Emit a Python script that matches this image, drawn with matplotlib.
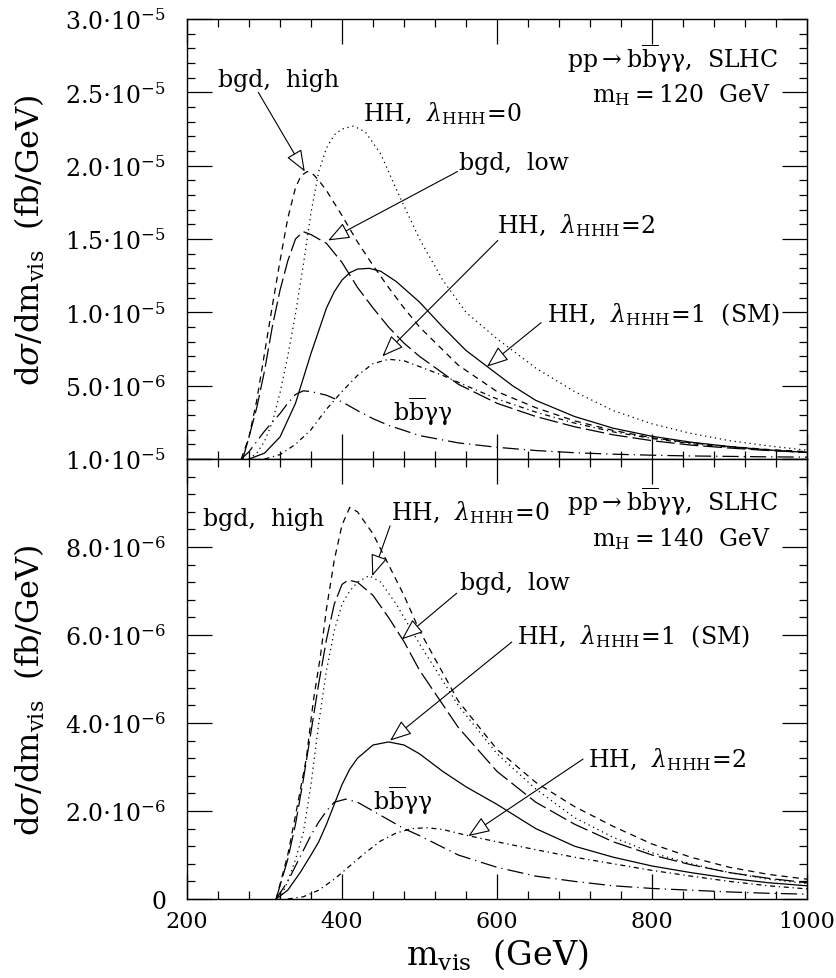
import numpy as np
import matplotlib
matplotlib.use('Agg')
import matplotlib.pyplot as plt
from matplotlib.ticker import MultipleLocator, FixedLocator, FixedFormatter

plt.rcParams['font.family'] = 'DejaVu Serif'
plt.rcParams['mathtext.fontset'] = 'dejavuserif'

# ---- data, dsigma/dm_vis in units of 1e-6 fb/GeV ----
# top panel, m_H = 120 GeV
t_high_x = [270, 280, 290, 300, 310, 320, 330, 340, 347, 355, 363, 370, 380, 400, 420, 440, 460, 480, 500,
            550, 600, 650, 700, 750, 800, 850, 900, 950, 1000]
t_high_y = [0, 1.5, 4.0, 7.2, 10.4, 13.5, 16.4, 18.5, 19.3, 19.6, 19.4, 19.0, 18.3, 16.6, 14.8, 13.2, 11.7,
            10.3, 9.0, 6.4, 4.6, 3.5, 2.6, 1.95, 1.45, 1.1, 0.85, 0.65, 0.5]
t_low_x = [272, 280, 290, 300, 310, 320, 330, 340, 350, 360, 380, 400, 420, 440, 460, 480, 500, 550, 600,
           650, 700, 750, 800, 850, 900, 950, 1000]
t_low_y = [0, 1.5, 3.5, 6.0, 9.0, 11.5, 13.5, 15.0, 15.5, 15.3, 14.7, 13.4, 11.7, 10.3, 9.0, 7.9, 7.0, 5.1,
           3.8, 2.9, 2.2, 1.65, 1.25, 0.95, 0.75, 0.58, 0.45]
t_l0_x = [280, 290, 300, 310, 320, 330, 340, 350, 360, 370, 380, 390, 400, 415, 430, 450, 470, 500, 530,
          560, 600, 650, 700, 750, 800, 850, 900, 950, 1000]
t_l0_y = [0, 0.4, 1.2, 2.5, 4.5, 7.0, 9.9, 13.2, 16.8, 19.6, 21.2, 22.1, 22.5, 22.7, 22.3, 20.8, 18.4, 15.0,
          12.2, 10.0, 8.2, 6.2, 4.6, 3.3, 2.4, 1.75, 1.25, 0.9, 0.6]
t_sm_x = [280, 300, 320, 340, 360, 380, 390, 400, 410, 420, 435, 450, 470, 500, 530, 560, 590, 620, 650,
          700, 750, 800, 850, 900, 950, 1000]
t_sm_y = [0, 0.4, 1.5, 3.8, 7.2, 10.3, 11.4, 12.2, 12.7, 12.95, 13.0, 12.8, 12.1, 10.7, 9.0, 7.4, 6.2, 5.0,
          4.0, 2.9, 2.1, 1.55, 1.15, 0.85, 0.62, 0.45]
t_l2_x = [300, 320, 340, 360, 380, 400, 420, 440, 460, 480, 500, 530, 560, 600, 650, 700, 750, 800, 850,
          900, 950, 1000]
t_l2_y = [0, 0.3, 1.0, 2.0, 3.4, 4.6, 5.7, 6.5, 6.8, 6.7, 6.3, 5.7, 5.0, 4.1, 3.2, 2.45, 1.85, 1.4, 1.05,
          0.8, 0.6, 0.45]
t_bb_x = [270, 280, 290, 300, 310, 320, 330, 340, 350, 360, 380, 400, 420, 440, 460, 500, 550, 600, 650,
          700, 750, 800, 850, 900, 950, 1000]
t_bb_y = [0, 0.5, 1.2, 1.9, 2.5, 3.1, 3.8, 4.4, 4.65, 4.6, 4.35, 3.9, 3.3, 2.75, 2.3, 1.6, 1.1, 0.8, 0.58,
          0.43, 0.33, 0.26, 0.21, 0.18, 0.15, 0.13]

# bottom panel, m_H = 140 GeV
b_high_x = [315, 330, 340, 354, 363, 372, 380, 390, 400, 410, 420, 440, 460, 480, 500, 550, 600, 650, 700,
            750, 800, 850, 900, 950, 1000]
b_high_y = [0, 1.0, 1.9, 3.2, 4.5, 5.5, 6.6, 7.7, 8.5, 8.9, 8.8, 8.3, 7.6, 6.9, 6.1, 4.5, 3.4, 2.65, 2.1,
            1.65, 1.25, 0.95, 0.72, 0.56, 0.45]
b_low_x = [315, 330, 340, 350, 360, 370, 380, 390, 400, 408, 420, 440, 460, 480, 500, 550, 600, 650, 700,
           750, 800, 850, 900, 950, 1000]
b_low_y = [0, 0.9, 1.7, 2.7, 3.8, 4.9, 5.9, 6.7, 7.15, 7.25, 7.2, 6.9, 6.4, 5.85, 5.2, 3.9, 2.9, 2.2, 1.7,
           1.3, 1.0, 0.78, 0.6, 0.47, 0.37]
b_l0_x = [320, 330, 340, 350, 360, 370, 380, 390, 400, 410, 420, 435, 450, 470, 500, 550, 600, 650, 700,
          750, 800, 850, 900, 950, 1000]
b_l0_y = [0, 0.4, 0.9, 1.5, 2.6, 4.0, 5.2, 6.1, 6.7, 7.0, 7.2, 7.35, 7.2, 6.7, 5.8, 4.4, 3.3, 2.5, 1.85,
          1.4, 1.05, 0.8, 0.6, 0.45, 0.35]
b_sm_x = [315, 330, 346, 360, 370, 380, 390, 400, 410, 420, 440, 460, 480, 500, 530, 560, 600, 650, 700,
          750, 800, 850, 900, 950, 1000]
b_sm_y = [0, 0.2, 0.6, 1.0, 1.3, 1.7, 2.15, 2.6, 2.95, 3.2, 3.5, 3.57, 3.5, 3.3, 2.9, 2.55, 2.15, 1.6, 1.2,
          0.95, 0.75, 0.6, 0.47, 0.37, 0.3]
b_l2_x = [330, 350, 370, 390, 410, 430, 450, 470, 490, 510, 530, 560, 600, 650, 700, 750, 800, 850, 900,
          950, 1000]
b_l2_y = [0, 0.05, 0.2, 0.45, 0.75, 1.05, 1.32, 1.5, 1.6, 1.62, 1.58, 1.45, 1.3, 1.12, 0.95, 0.8, 0.65,
          0.52, 0.4, 0.3, 0.23]
b_bb_x = [315, 330, 340, 350, 360, 370, 380, 390, 405, 420, 440, 460, 480, 500, 550, 600, 650, 700, 750,
          800, 850, 900, 950, 1000]
b_bb_y = [0, 0.4, 0.75, 1.1, 1.45, 1.75, 2.0, 2.2, 2.27, 2.2, 2.0, 1.8, 1.6, 1.44, 1.0, 0.72, 0.52, 0.4,
          0.3, 0.24, 0.2, 0.16, 0.13, 0.11]

top_ticks = [0, 5e-6, 1e-5, 1.5e-5, 2e-5, 2.5e-5, 3e-5]
top_labels = ['', r'$5.0{\cdot}10^{-6}$', r'$1.0{\cdot}10^{-5}$', r'$1.5{\cdot}10^{-5}$',
              r'$2.0{\cdot}10^{-5}$', r'$2.5{\cdot}10^{-5}$', r'$3.0{\cdot}10^{-5}$']
bot_ticks = [0, 2e-6, 4e-6, 6e-6, 8e-6, 1e-5]
bot_labels = ['0', r'$2.0{\cdot}10^{-6}$', r'$4.0{\cdot}10^{-6}$', r'$6.0{\cdot}10^{-6}$',
              r'$8.0{\cdot}10^{-6}$', r'$1.0{\cdot}10^{-5}$']

s_high = (0, (5, 4))
s_low = (0, (15, 4))
s_dot = (0, (1, 3))
s_bb = (0, (13, 4, 1, 4))
s_l2 = (0, (4, 3, 1, 3))
lw = 0.9

fig = plt.figure(figsize=(8.37, 9.79), dpi=100)
ax1 = fig.add_axes([0.2234, 0.5301, 0.7408, 0.4495])
ax2 = fig.add_axes([0.2234, 0.0807, 0.7408, 0.4494])

def draw(ax, sets):
    for xs, ys, ls in sets:
        ax.plot(xs, np.array(ys) * 1e-6, color='black', lw=lw, linestyle=ls)

draw(ax1, [(t_high_x, t_high_y, s_high), (t_low_x, t_low_y, s_low), (t_l0_x, t_l0_y, s_dot),
           (t_sm_x, t_sm_y, '-'), (t_l2_x, t_l2_y, s_l2), (t_bb_x, t_bb_y, s_bb)])
draw(ax2, [(b_high_x, b_high_y, s_high), (b_low_x, b_low_y, s_low), (b_l0_x, b_l0_y, s_dot),
           (b_sm_x, b_sm_y, '-'), (b_l2_x, b_l2_y, s_l2), (b_bb_x, b_bb_y, s_bb)])

ax1.set_ylim(0, 3e-5)
ax2.set_ylim(0, 1e-5)
for ax in (ax1, ax2):
    ax.set_xlim(200, 1000)
    ax.xaxis.set_major_locator(MultipleLocator(200))
    ax.xaxis.set_minor_locator(MultipleLocator(40))
    ax.tick_params(which='major', direction='in', length=18, width=0.9, top=True, right=True, pad=15)
    ax.tick_params(which='minor', direction='in', length=6, width=0.9, top=True, right=True)
    ax.tick_params(axis='y', labelsize=17)
    ax.tick_params(axis='x', labelsize=16, pad=8)
    for sp in ax.spines.values():
        sp.set_linewidth(1.0)

ax1.yaxis.set_major_locator(FixedLocator(top_ticks))
ax1.yaxis.set_major_formatter(FixedFormatter(top_labels))
ax1.yaxis.set_minor_locator(MultipleLocator(1e-6))
ax1.set_xticklabels([])
ax2.yaxis.set_major_locator(FixedLocator(bot_ticks))
ax2.yaxis.set_major_formatter(FixedFormatter(bot_labels))
ax2.yaxis.set_minor_locator(MultipleLocator(4e-7))

fs = 17
ap = dict(arrowstyle='-|>,head_length=0.9,head_width=0.35', fc='white', ec='black', lw=0.8,
          shrinkA=0, shrinkB=0, mutation_scale=15)

def arrow(ax, head, tail):
    ax.annotate('', xy=(head[0], head[1] * 1e-6), xytext=(tail[0], tail[1] * 1e-6), arrowprops=ap)

def label(ax, x, y, s, ha='left'):
    ax.text(x, y * 1e-6, s, fontsize=fs, ha=ha, va='center')

bbgg = r'$\rm b\overline{b}\gamma\gamma$'
proc = r'$\rm pp\rightarrow b\overline{b}\gamma\gamma$,  SLHC'

# top panel labels
label(ax1, 240, 25.9, 'bgd,  high')
arrow(ax1, (352, 19.6), (292, 25.0))
label(ax1, 427, 23.6, r'HH,  $\lambda_{\rm HHH}\!=\!0$')
label(ax1, 551, 20.2, 'bgd,  low')
arrow(ax1, (382, 14.9), (549, 19.6))
label(ax1, 600, 16.0, r'HH,  $\lambda_{\rm HHH}\!=\!2$')
arrow(ax1, (452, 7.0), (601, 14.9))
label(ax1, 665, 9.9, r'HH,  $\lambda_{\rm HHH}\!=\!1$  (SM)')
arrow(ax1, (587, 6.3), (657, 9.3))
label(ax1, 466, 3.3, bbgg)
label(ax1, 963, 27.4, proc, ha='right')
label(ax1, 953, 24.9, r'$\rm m_H = 120$  GeV', ha='right')

# bottom panel labels
label(ax2, 221, 8.65, 'bgd,  high')
label(ax2, 463, 8.8, r'HH,  $\lambda_{\rm HHH}\!=\!0$')
arrow(ax2, (439, 7.34), (462, 8.48))
label(ax2, 963, 9.05, proc, ha='right')
label(ax2, 953, 8.2, r'$\rm m_H = 140$  GeV', ha='right')
label(ax2, 552, 7.2, 'bgd,  low')
arrow(ax2, (477, 5.9), (548, 6.95))
label(ax2, 626, 5.98, r'HH,  $\lambda_{\rm HHH}\!=\!1$  (SM)')
arrow(ax2, (462, 3.6), (619, 5.84))
label(ax2, 440, 2.27, bbgg)
label(ax2, 717, 3.18, r'HH,  $\lambda_{\rm HHH}\!=\!2$')
arrow(ax2, (563, 1.43), (711, 3.18))

ylab = r'd$\sigma$/dm$_{\rm vis}$  (fb/GeV)'
fig.text(0.036, 0.755, ylab, rotation=90, fontsize=23, ha='center', va='center')
fig.text(0.036, 0.295, ylab, rotation=90, fontsize=23, ha='center', va='center')
fig.text(0.594, 0.0245, r'm$_{\rm vis}$  (GeV)', fontsize=24, ha='center', va='center')

fig.savefig('out.png', dpi=100)
